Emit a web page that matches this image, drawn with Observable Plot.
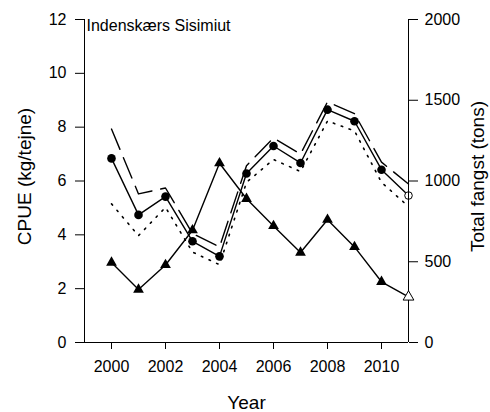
<!DOCTYPE html>
<html>
<head>
<meta charset="utf-8">
<script src="https://cdn.jsdelivr.net/npm/d3@7"></script>
<script src="https://cdn.jsdelivr.net/npm/@observablehq/plot@0.6"></script>
<style>
  html, body { margin: 0; padding: 0; background: white; }
  #chart { position: relative; width: 490px; height: 412px; overflow: hidden; }
  #chart svg { position: absolute; left: 0; top: 0; }
</style>
</head>
<body>
<div id="chart"></div>
<script>
// ---- data ----
const years     = [2000, 2001, 2002, 2003, 2004, 2005, 2006, 2007, 2008, 2009, 2010, 2011];
const cpue      = [6.84, 4.74, 5.42, 3.76, 3.20, 6.28, 7.30, 6.67, 8.65, 8.22, 6.42, 5.46];
const cpueUpper = [7.93, 5.52, 5.74, 4.05, 3.55, 6.57, 7.60, 7.00, 8.94, 8.50, 6.70, 5.89];
const cpueLower = [5.15, 3.97, 5.02, 3.36, 2.89, 5.95, 6.80, 6.35, 8.23, 7.86, 5.95, 5.05];
const catchTons = [495, 328, 480, 695, 1110, 890, 722, 557, 760, 592, 376, 282];

const xTicks      = [2000, 2002, 2004, 2006, 2008, 2010];
const cpueTicks   = [0, 2, 4, 6, 8, 10, 12];
const catchTicks  = [0, 500, 1000, 1500, 2000];
const xDomain     = [1999, 2011];
const cpueDomain  = [0, 12];
const catchDomain = [0, 2000];

const areaLabel  = ["Indenskærs Sisimiut"];
const xLabel     = ["Year"];
const yLabel     = ["CPUE (kg/tejne)"];
const y2Label    = ["Total fangst (tons)"];

const rows = years.map((year, i) => ({
  year, cpue: cpue[i], hi: cpueUpper[i], lo: cpueLower[i], tons: catchTons[i]
}));
const lastYear = years[years.length - 1];
const solidRows = rows.filter(d => d.year !== lastYear);
const openRows  = rows.filter(d => d.year === lastYear);

const frame = {
  width: 490, height: 412,
  marginLeft: 84, marginRight: 82, marginTop: 19, marginBottom: 70
};
const font = "'Liberation Sans', Arial, Helvetica, sans-serif";

// ---- left plot: CPUE ----
const p1 = Plot.plot({
  ...frame,
  style: { fontFamily: font, fontSize: "16px", color: "black", background: "transparent", overflow: "visible" },
  x: { domain: xDomain },
  y: { domain: cpueDomain },
  marks: [
    Plot.ruleY([cpueDomain[0]], { stroke: "black", strokeWidth: 1 }),
    Plot.ruleX([xDomain[0]], { y1: cpueDomain[0], y2: cpueDomain[1], stroke: "black", strokeWidth: 1 }),
    Plot.axisY({ ticks: cpueTicks, tickSize: 9, tickPadding: 9, fontSize: 16, label: null, stroke: "black" }),
    Plot.axisX({ ticks: xTicks, tickSize: 7, tickPadding: 11, fontSize: 16, tickFormat: d => String(d), label: null, stroke: "black" }),
    Plot.line(rows, { x: "year", y: "hi", stroke: "black", strokeWidth: 1.4, strokeDasharray: "22,9" }),
    Plot.line(rows, { x: "year", y: "lo", stroke: "black", strokeWidth: 1.6, strokeDasharray: "1.6,6.8" }),
    Plot.line(rows, { x: "year", y: "cpue", stroke: "black", strokeWidth: 1.4 }),
    Plot.dot(solidRows, { x: "year", y: "cpue", r: 4.3, fill: "black", stroke: "none" }),
    Plot.dot(openRows, { x: "year", y: "cpue", r: 3.8, fill: "white", stroke: "black", strokeWidth: 1 }),
    Plot.text(areaLabel, { frameAnchor: "top-left", dx: 2, dy: 0, fontSize: 16, textAnchor: "start", lineAnchor: "top", fill: "black" }),
    Plot.text(yLabel, { frameAnchor: "top-left", dx: -60, dy: 157, rotate: -90, fontSize: 19, textAnchor: "middle", lineAnchor: "middle", fill: "black" }),
    Plot.text(xLabel, { frameAnchor: "bottom", dy: 60, fontSize: 19, textAnchor: "middle", lineAnchor: "middle", fill: "black" })
  ]
});

// ---- right plot: total catch ----
const p2 = Plot.plot({
  ...frame,
  style: { fontFamily: font, fontSize: "16px", color: "black", background: "transparent", overflow: "visible" },
  x: { domain: xDomain, axis: null },
  y: { domain: catchDomain },
  marks: [
    Plot.ruleX([xDomain[1]], { y1: catchDomain[0], y2: catchDomain[1], stroke: "black", strokeWidth: 1 }),
    Plot.axisY({ anchor: "right", ticks: catchTicks, tickSize: 9, tickPadding: 7, fontSize: 16, tickFormat: d => String(d), label: null, stroke: "black" }),
    Plot.line(rows, { x: "year", y: "tons", stroke: "black", strokeWidth: 1.4 }),
    Plot.dot(solidRows, { x: "year", y: "tons", symbol: "triangle", r: 4, fill: "black", stroke: "none" }),
    Plot.dot(openRows, { x: "year", y: "tons", symbol: "triangle", r: 4, fill: "white", stroke: "black", strokeWidth: 1 }),
    Plot.text(y2Label, { frameAnchor: "top-right", dx: 69, dy: 157, rotate: -90, fontSize: 19, textAnchor: "middle", lineAnchor: "middle", fill: "black" })
  ]
});

const chart = document.getElementById("chart");
chart.appendChild(p1);
chart.appendChild(p2);
</script>
</body>
</html>
